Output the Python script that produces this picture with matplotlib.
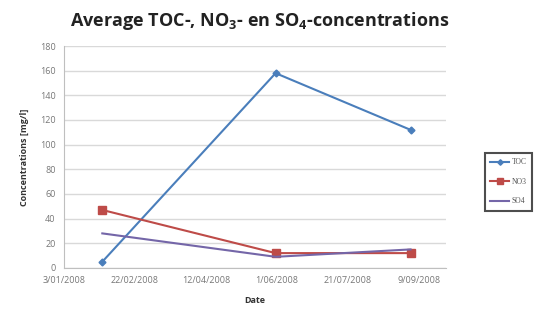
import matplotlib.pyplot as plt
import numpy as np

# Meetdata: gemiddelde concentraties per staalname
dates = np.array(['2008-01-30', '2008-05-31', '2008-09-03'], dtype='datetime64[D]')
toc = [5, 158, 112]
no3 = [47, 12, 12]
so4 = [28, 9, 15]
labels = ['TOC', 'NO3', 'SO4']

tick_dates = np.arange(np.datetime64('2008-01-03'), np.datetime64('2008-09-10'), 50)

plt.rcParams['font.family'] = ['Open Sans', 'DejaVu Sans']
plt.rcParams['mathtext.fontset'] = 'custom'
plt.rcParams['mathtext.rm'] = 'Open Sans'
plt.rcParams['mathtext.bf'] = 'Open Sans:bold'

fig = plt.figure(figsize=(5.42, 3.22), dpi=100)
ax = fig.add_axes([0.118, 0.168, 0.705, 0.689])

l1, = ax.plot(dates, toc, color='#4a7ebb', marker='D', markersize=3.5, lw=1.5)
l2, = ax.plot(dates, no3, color='#be4b48', marker='s', markersize=6, lw=1.5)
l3, = ax.plot(dates, so4, color='#7466a8', lw=1.5)

ax.set_xlim(np.datetime64('2008-01-03'), np.datetime64('2008-09-28'))
ax.set_ylim(0, 180)
ax.set_yticks(np.arange(0, 181, 20))
ax.set_xticks(tick_dates)
ax.set_xticklabels([f'{d.day}/{d.month:02d}/{d.year}' for d in tick_dates.astype(object)])
ax.tick_params(labelsize=6.5, colors='#777777', length=0, pad=6)
ax.grid(axis='y', color='#d9d9d9', lw=1)
ax.set_axisbelow(True)
for side in ['top', 'right']:
    ax.spines[side].set_visible(False)
ax.spines['left'].set_color('#bfbfbf')
ax.spines['bottom'].set_color('#bfbfbf')

ax.set_ylabel('Concentrations [mg/l]', fontsize=6.5, fontweight='bold', color='#333333', labelpad=8)
ax.set_xlabel('Date', fontsize=6.5, fontweight='bold', color='#333333', labelpad=8)
fig.suptitle(r'Average TOC-, NO$_\mathbf{3}$- en SO$_\mathbf{4}$-concentrations',
             x=0.48, y=0.97, fontsize=13, fontweight='bold', color='#222222')

leg = fig.legend([l1, l2, l3], labels, loc='center left', bbox_to_anchor=(0.888, 0.435),
                 frameon=True, fancybox=False, handlelength=2.4, handletextpad=0.4,
                 labelspacing=1.5, borderpad=0.7, markerscale=0.8,
                 prop={'family': 'Liberation Serif', 'size': 5.5})
leg.get_frame().set_edgecolor('#222222')
leg.get_frame().set_linewidth(1.5)
for t in leg.get_texts():
    t.set_color('#555555')

fig.savefig('out.png', dpi=100)
